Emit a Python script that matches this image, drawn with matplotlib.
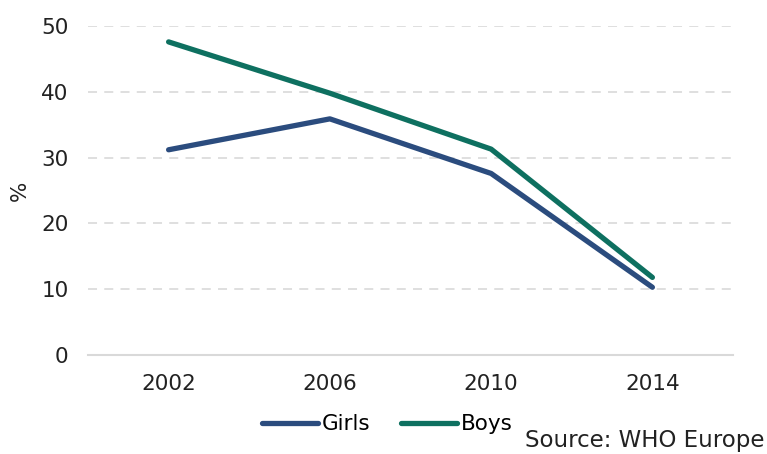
import matplotlib.pyplot as plt

years = ['2002', '2006', '2010', '2014']
girls = [31.2, 35.9, 27.6, 10.3]
boys = [47.6, 39.8, 31.3, 11.8]

plt.rcParams['font.family'] = ['DejaVu Sans']

fig = plt.figure(figsize=(7.67, 4.54), dpi=100)
ax = fig.add_axes([0.1147, 0.218, 0.841, 0.7245])

x = range(len(years))
ax.plot(x, girls, color='#2B4C7E', lw=3.8, solid_capstyle='round', label='Girls')
ax.plot(x, boys, color='#0E7060', lw=3.8, solid_capstyle='round', label='Boys')

ax.set_xlim(-0.5, len(years) - 0.5)
ax.set_ylim(0, 50)
ax.set_yticks(range(0, 51, 10))
ax.set_xticks(list(x))
ax.set_xticklabels(years)
ax.tick_params(length=0, labelsize=15.5, colors='#222222')
ax.tick_params(axis='y', pad=14)
ax.tick_params(axis='x', pad=14)

for v in range(10, 51, 10):
    ax.axhline(v, color='#DCDCDC', lw=1.3, ls=(0, (5, 4)), zorder=0)
for s in ['top', 'right', 'left']:
    ax.spines[s].set_visible(False)
ax.spines['bottom'].set_color('#D9D9D9')
ax.spines['bottom'].set_linewidth(1.5)

ax.set_ylabel('%', fontsize=15.5, color='#222222', labelpad=8)

fig.legend(loc='center', bbox_to_anchor=(0.505, 0.065), ncol=2, frameon=False,
           fontsize=15.5, handlelength=2.6, handletextpad=0.2, columnspacing=1.4)
fig.text(0.997, 0.03, 'Source: WHO Europe', ha='right', va='center', fontsize=16.5, color='#222222')

fig.savefig('out.png', dpi=100)
